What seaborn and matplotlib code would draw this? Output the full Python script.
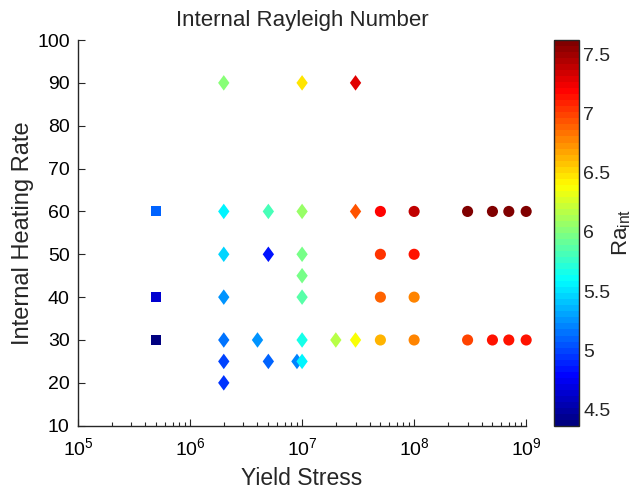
import numpy as np
import pandas as pd
import matplotlib
matplotlib.use("Agg")
import matplotlib.pyplot as plt
from matplotlib.path import Path
from matplotlib.colors import LinearSegmentedColormap
import seaborn as sns

# ---- data ----
sq_stress = [5e5, 5e5, 5e5]
sq_rate = [60, 40, 30]
sq_ra = [5.09, 4.65, 4.40]

di_stress = [2e6, 2e6, 2e6, 2e6, 2e6, 2e6, 2e6,
             4e6,
             5e6, 5e6, 5e6,
             9e6,
             1e7, 1e7, 1e7, 1e7, 1e7, 1e7, 1e7,
             2e7,
             3e7, 3e7, 3e7]
di_rate = [90, 60, 50, 40, 30, 25, 20,
           30,
           60, 50, 25,
           25,
           90, 60, 50, 45, 40, 30, 25,
           30,
           90, 60, 30]
di_ra = [5.99, 5.58, 5.46, 5.26, 5.13, 5.01, 4.93,
         5.26,
         5.83, 4.85, 5.09,
         5.18,
         6.48, 6.07, 5.95, 5.95, 5.87, 5.66, 5.58,
         6.15,
         7.29, 6.93, 6.36]

ci_stress = [5e7, 5e7, 5e7, 5e7,
             1e8, 1e8, 1e8, 1e8,
             3e8, 3e8, 5e8, 5e8, 7e8, 7e8, 1e9, 1e9]
ci_rate = [60, 50, 40, 30,
           60, 50, 40, 30,
           60, 30, 60, 30, 60, 30, 60, 30]
ci_ra = [7.21, 7.05, 6.89, 6.64,
         7.38, 7.13, 6.76, 6.76,
         7.58, 6.97, 7.60, 7.13, 7.60, 7.13, 7.62, 7.13]

ra_min, ra_max = 4.36, 7.62
cbar_ticks = [4.5, 5, 5.5, 6, 6.5, 7, 7.5]
y_ticks = list(range(10, 101, 10))

sns.set_theme(style="ticks")
plt.rcParams["font.family"] = ["Liberation Sans", "DejaVu Sans"]
plt.rcParams["mathtext.fontset"] = "custom"
plt.rcParams["mathtext.rm"] = "Liberation Sans"
plt.rcParams["mathtext.it"] = "Liberation Sans:italic"

dark = (0.15, 0.15, 0.15)
# MATLAB-style jet with 64 levels
jet = LinearSegmentedColormap.from_list(
    "mjet",
    [(0.0, (0, 0, 0.5)), (0.125, (0, 0, 1)), (0.375, (0, 1, 1)),
     (0.625, (1, 1, 0)), (0.875, (1, 0, 0)), (1.0, (0.5, 0, 0))], N=64)

fig = plt.figure(figsize=(6.43, 4.91), dpi=100)
ax = fig.add_axes([0.1213, 0.133, 0.697, 0.7855])
cax = fig.add_axes([0.8616, 0.1324, 0.0389, 0.7862])

diamond = Path([(0, 1), (0.73, 0), (0, -1), (-0.73, 0), (0, 1)],
               [Path.MOVETO, Path.LINETO, Path.LINETO, Path.LINETO, Path.CLOSEPOLY])

common = dict(hue_norm=(ra_min, ra_max), palette=jet, linewidth=0,
              edgecolor="none", legend=False, ax=ax, clip_on=False)

df_sq = pd.DataFrame({"stress": sq_stress, "rate": sq_rate, "ra": sq_ra})
df_di = pd.DataFrame({"stress": di_stress, "rate": di_rate, "ra": di_ra})
df_ci = pd.DataFrame({"stress": ci_stress, "rate": ci_rate, "ra": ci_ra})

sns.scatterplot(data=df_sq, x="stress", y="rate", hue="ra", marker="s", s=52, **common)
sns.scatterplot(data=df_di, x="stress", y="rate", hue="ra", marker=diamond, s=125, **common)
sns.scatterplot(data=df_ci, x="stress", y="rate", hue="ra", marker="o", s=64, **common)

ax.set_xscale("log")
ax.set_xlim(1e5, 1e9)
ax.set_ylim(10, 100)
ax.set_yticks(y_ticks)
ax.set_xticks([1e5, 1e6, 1e7, 1e8, 1e9])
sns.despine(ax=ax)
for sp in ax.spines.values():
    sp.set_color(dark)
    sp.set_linewidth(1.0)
ax.tick_params(axis="both", which="major", direction="in", length=5, width=0.8,
               color=dark, labelsize=14, labelcolor="black", pad=6)
ax.tick_params(axis="x", which="major", pad=8)
ax.tick_params(axis="x", which="minor", direction="in", length=3, width=0.8, color=dark)
ax.set_xlabel("Yield Stress", fontsize=16.5, labelpad=6)
ax.set_ylabel("Internal Heating Rate", fontsize=17, labelpad=2)
ax.set_title("Internal Rayleigh Number", fontsize=16, pad=10)

sm = plt.cm.ScalarMappable(cmap=jet, norm=plt.Normalize(ra_min, ra_max))
cb = fig.colorbar(sm, cax=cax, ticks=cbar_ticks)
cb.ax.set_yticklabels([f"{t:g}" for t in cbar_ticks])
cb.outline.set_edgecolor(dark)
cb.outline.set_linewidth(1.0)
cb.ax.tick_params(direction="in", length=5, width=0.8, color=dark, labelsize=14, pad=3)
cb.set_label(r"Ra$_{\mathregular{int}}$", fontsize=16, labelpad=0)

fig.savefig("out.png", dpi=100)
